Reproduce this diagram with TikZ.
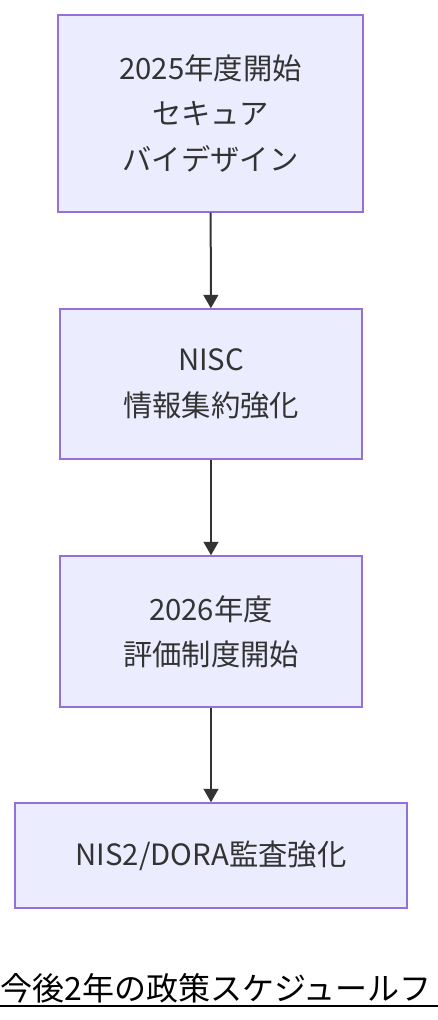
\documentclass[tikz,border=0pt]{standalone}
\usepackage{fontspec}
\setmainfont{Noto Sans CJK JP}
\usetikzlibrary{%
  arrows.meta,% wg. Triangle
  positioning%
}
\definecolor{boxfill}{HTML}{ECECFF}
\definecolor{boxline}{HTML}{9370DB}
\definecolor{arrowgray}{HTML}{333333}

\begin{document}
\begin{tikzpicture}
[x=0.75pt, y=-0.75pt,
box/.style={rectangle, draw=boxline, fill=boxfill, line width=1.1pt, inner sep=0pt, text=arrowgray, align=center, font=\fontsize{22}{34}\selectfont},
flow/.style={draw=arrowgray, line width=1.5pt, -{Triangle[length=10pt,width=11pt]}}]

\useasboundingbox (0,0) rectangle (438,1020);

\node[box, minimum width=228.75pt, minimum height=147.75pt] (start) at (210.5,113.5) {2025年度開始\\セキュア\\バイデザイン};
\node[box, minimum width=226.5pt, minimum height=112.5pt] (nisc) at (211,384) {NISC\\情報集約強化};
\node[box, minimum width=226.5pt, minimum height=113.25pt] (hyoka) at (211,631.5) {2026年度\\評価制度開始};
\node[box, minimum width=294pt, minimum height=78.75pt] (dora) at (211,855.5) {NIS2/DORA監査強化};

\draw[flow] (start) -- (nisc);
\draw[flow] (nisc) -- (hyoka);
\draw[flow] (hyoka) -- (dora);

\node[anchor=base west, inner sep=0pt, font=\fontsize{24}{28}\selectfont] (title) at (0,1000) {今後2年の政策スケジュールフ};
\draw[line width=1.5pt] (0,1006) -- (438,1006);
\end{tikzpicture}
\end{document}
